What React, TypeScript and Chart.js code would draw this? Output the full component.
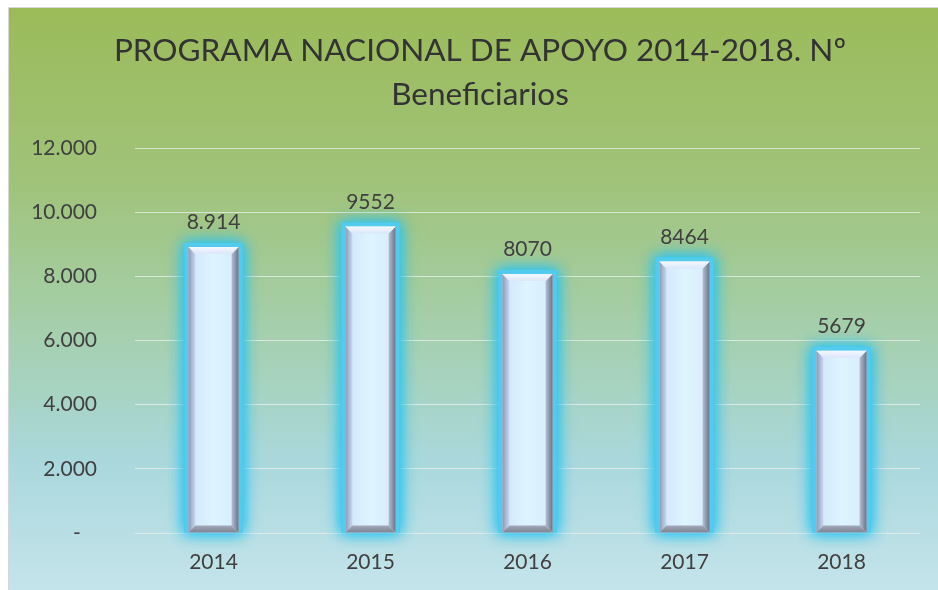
import React, { useEffect, useRef } from "react";
import { Chart, registerables } from "chart.js";

Chart.register(...registerables);

const categories = ["2014", "2015", "2016", "2017", "2018"];
const values = [8914, 9552, 8070, 8464, 5679];
const valueLabels = ["8.914", "9552", "8070", "8464", "5679"];
const yTicks = [0, 2000, 4000, 6000, 8000, 10000, 12000];
const yTickLabels = ["-   ", "2.000", "4.000", "6.000", "8.000", "10.000", "12.000"];
const titleLines = ["PROGRAMA NACIONAL DE APOYO 2014-2018. Nº", "Beneficiarios"];

const FONT = "Lato, 'Open Sans', sans-serif";
const TEXT = "#404040";

const backgroundPlugin = {
  id: "bgPanel",
  beforeDraw(chart: any) {
    const { ctx, width, height } = chart;
    ctx.save();
    ctx.fillStyle = "#ffffff";
    ctx.fillRect(0, 0, width, height);
    const g = ctx.createLinearGradient(0, 8, 0, height);
    g.addColorStop(0, "#9bbb59");
    g.addColorStop(0.3, "#a0c37a");
    g.addColorStop(0.55, "#a5cfac");
    g.addColorStop(0.78, "#aad8dc");
    g.addColorStop(1, "#c4e4eb");
    ctx.fillStyle = g;
    ctx.fillRect(9, 8, width - 9, height - 8);
    ctx.strokeStyle = "#d6d6d6";
    ctx.lineWidth = 1;
    ctx.beginPath();
    ctx.moveTo(8.5, height);
    ctx.lineTo(8.5, 7.5);
    ctx.lineTo(width, 7.5);
    ctx.stroke();
    // title
    ctx.fillStyle = "#333333";
    ctx.textAlign = "center";
    ctx.textBaseline = "middle";
    ctx.font = `31.5px ${FONT}`;
    ctx.fillText(titleLines[0], 480, 51);
    ctx.fillText(titleLines[1], 480, 95);
    ctx.restore();
  },
};

const barStylePlugin = {
  id: "barStyle",
  beforeDatasetsDraw(chart: any) {
    const { ctx } = chart;
    const meta = chart.getDatasetMeta(0);
    ctx.save();
    meta.data.forEach((bar: any) => {
      const { x, y, base, width } = bar.getProps(["x", "y", "base", "width"], true);
      const l = x - width / 2;
      ctx.shadowColor = "rgba(40,196,240,0.95)";
      ctx.shadowBlur = 14;
      ctx.fillStyle = "#52cbef";
      ctx.fillRect(l - 4, y - 4, width + 8, base - y + 4);
      ctx.fillRect(l - 4, y - 4, width + 8, base - y + 4);
    });
    ctx.restore();
  },
  afterDatasetsDraw(chart: any) {
    const { ctx } = chart;
    const meta = chart.getDatasetMeta(0);
    ctx.save();
    meta.data.forEach((bar: any, i: number) => {
      const { x, y, base, width } = bar.getProps(["x", "y", "base", "width"], true);
      const l = x - width / 2;
      const r = x + width / 2;
      const b = 7;
      // face
      const face = ctx.createLinearGradient(l, 0, r, 0);
      face.addColorStop(0, "#cfe6fb");
      face.addColorStop(0.5, "#def4fe");
      face.addColorStop(1, "#d6ecfb");
      ctx.fillStyle = face;
      ctx.fillRect(l, y, width, base - y);
      // left bevel
      const lg = ctx.createLinearGradient(l, 0, l + b, 0);
      lg.addColorStop(0, "#8e98b4");
      lg.addColorStop(1, "#c9d9f2");
      ctx.fillStyle = lg;
      ctx.beginPath();
      ctx.moveTo(l, y);
      ctx.lineTo(l + b, y + b);
      ctx.lineTo(l + b, base - b);
      ctx.lineTo(l, base);
      ctx.closePath();
      ctx.fill();
      // right bevel
      const rg = ctx.createLinearGradient(r - b, 0, r, 0);
      rg.addColorStop(0, "#b4bfd4");
      rg.addColorStop(1, "#6c7284");
      ctx.fillStyle = rg;
      ctx.beginPath();
      ctx.moveTo(r, y);
      ctx.lineTo(r - b, y + b);
      ctx.lineTo(r - b, base - b);
      ctx.lineTo(r, base);
      ctx.closePath();
      ctx.fill();
      // top bevel
      const tg = ctx.createLinearGradient(0, y, 0, y + b);
      tg.addColorStop(0, "#f4f8ff");
      tg.addColorStop(1, "#dbe6fa");
      ctx.fillStyle = tg;
      ctx.beginPath();
      ctx.moveTo(l, y);
      ctx.lineTo(r, y);
      ctx.lineTo(r - b, y + b);
      ctx.lineTo(l + b, y + b);
      ctx.closePath();
      ctx.fill();
      // bottom bevel
      const bg = ctx.createLinearGradient(0, base - b, 0, base);
      bg.addColorStop(0, "#a4a9bb");
      bg.addColorStop(1, "#7e8392");
      ctx.fillStyle = bg;
      ctx.beginPath();
      ctx.moveTo(l, base);
      ctx.lineTo(r, base);
      ctx.lineTo(r - b, base - b);
      ctx.lineTo(l + b, base - b);
      ctx.closePath();
      ctx.fill();
      // data label
      ctx.fillStyle = TEXT;
      ctx.font = `21px ${FONT}`;
      ctx.textAlign = "center";
      ctx.textBaseline = "bottom";
      ctx.fillText(valueLabels[i], x, y - 14);
    });
    ctx.restore();
  },
};

export default function App() {
  const ref = useRef<HTMLCanvasElement | null>(null);
  useEffect(() => {
    if (!ref.current) return;
    const chart = new Chart(ref.current, {
      type: "bar",
      data: {
        labels: categories,
        datasets: [
          {
            data: values,
            backgroundColor: "rgba(0,0,0,0)",
            borderWidth: 0,
            barPercentage: 0.64,
            categoryPercentage: 0.5,
          },
        ],
      },
      options: {
        responsive: false,
        animation: false,
        layout: { padding: { top: 148, right: 18, left: 0, bottom: 0 } },
        plugins: {
          legend: { display: false },
          title: { display: false },
          tooltip: { enabled: false },
        },
        scales: {
          x: {
            grid: { display: false, drawTicks: false },
            border: { display: false },
            ticks: { color: TEXT, font: { family: FONT, size: 21 }, padding: 17 },
            afterFit: (s: any) => {
              s.height = 57;
            },
          },
          y: {
            min: 0,
            max: 12000,
            afterBuildTicks: (s: any) => {
              s.ticks = yTicks.map((v) => ({ value: v }));
            },
            grid: { color: "rgba(235,240,235,0.75)", drawTicks: false, lineWidth: 1 },
            border: { display: false },
            ticks: {
              color: TEXT,
              font: { family: FONT, size: 21 },
              padding: 38,
              callback: (v: any) => {
                const idx = yTicks.indexOf(Number(v));
                return idx >= 0 ? yTickLabels[idx] : "";
              },
            },
            afterFit: (s: any) => {
              s.width = 135;
            },
          },
        },
      },
      plugins: [backgroundPlugin, barStylePlugin],
    });
    return () => chart.destroy();
  }, []);
  return (
    <div style={{ position: "absolute", left: 0, top: 0, width: 938, height: 590 }}>
      <canvas ref={ref} width={938} height={590} style={{ display: "block" }} />
    </div>
  );
}
